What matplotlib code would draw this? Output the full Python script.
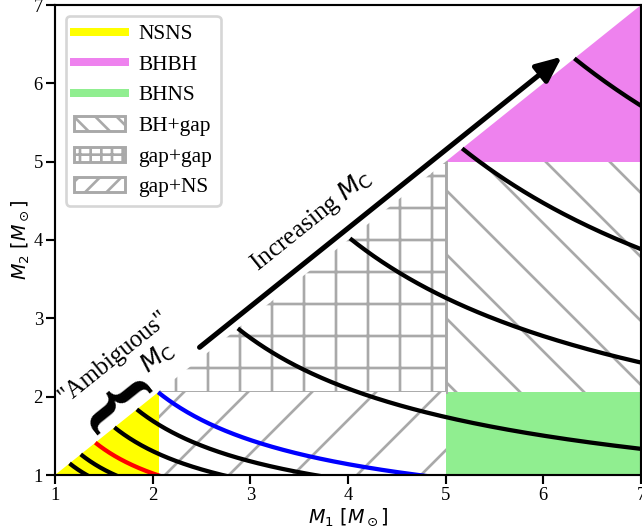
import numpy as np
import matplotlib
matplotlib.use("Agg")
import matplotlib.pyplot as plt
from matplotlib.patches import Rectangle, Polygon, Patch
from matplotlib.lines import Line2D

plt.rcParams["font.family"] = ["Liberation Serif", "DejaVu Serif"]
plt.rcParams["mathtext.fontset"] = "dejavusans"
plt.rcParams["hatch.linewidth"] = 1.0

# Mass ranges (solar masses)
M_MIN, M_MAX = 1.0, 7.0
NS_MAX = 2.06          # maximum neutron-star mass
BH_MIN = 5.0           # lower edge of the black-hole range

# Chirp-mass contours
mc_black = [1.0, 1.1, 1.4, 1.6, 2.5, 3.5, 4.5, 5.5]
mc_red = [1.23]
mc_blue = [1.79]

region_labels = ["NSNS", "BHBH", "BHNS", "BH+gap", "gap+gap", "gap+NS"]
region_colors = {"NSNS": "yellow", "BHBH": "violet", "BHNS": "lightgreen"}
hatch_gray = "darkgray"

x_ticks = [1, 2, 3, 4, 5, 6, 7]
y_ticks = [1, 2, 3, 4, 5, 6, 7]

# "Increasing M_C" arrow, running parallel to the equal-mass line
arrow_start, arrow_end, arrow_offset = 2.48, 6.19, 0.15


def chirp_curve(mc, n=600):
    """Component masses (m1 >= m2) at fixed chirp mass."""
    q = np.geomspace(1.0, 0.02, n)
    m1 = mc * (1 + q) ** 0.2 / q ** 0.6
    return m1, q * m1


DPI = 192
fig = plt.figure(figsize=(642 / DPI, 528 / DPI), dpi=DPI)
ax = fig.add_axes([55 / 642, 53 / 528, 586 / 642, 470 / 528])
ax.set_xlim(M_MIN, M_MAX)
ax.set_ylim(M_MIN, M_MAX)

# Population regions
ax.add_patch(Rectangle((M_MIN, M_MIN), NS_MAX - M_MIN, NS_MAX - M_MIN,
                       facecolor=region_colors["NSNS"], lw=0, zorder=1))
ax.add_patch(Rectangle((BH_MIN, BH_MIN), M_MAX - BH_MIN, M_MAX - BH_MIN,
                       facecolor=region_colors["BHBH"], lw=0, zorder=1))
ax.add_patch(Rectangle((BH_MIN, M_MIN), M_MAX - BH_MIN, NS_MAX - M_MIN,
                       facecolor=region_colors["BHNS"], lw=0, zorder=1))
ax.add_patch(Rectangle((BH_MIN, NS_MAX), M_MAX - BH_MIN, BH_MIN - NS_MAX,
                       facecolor="white", edgecolor=hatch_gray, hatch="\\",
                       lw=0, zorder=1))
ax.add_patch(Rectangle((NS_MAX, NS_MAX), BH_MIN - NS_MAX, BH_MIN - NS_MAX,
                       facecolor="white", edgecolor=hatch_gray, hatch="+",
                       lw=1.1, zorder=1))
ax.add_patch(Rectangle((NS_MAX, M_MIN), BH_MIN - NS_MAX, NS_MAX - M_MIN,
                       facecolor="white", edgecolor=hatch_gray, hatch="/",
                       lw=0, zorder=1))

# Only m1 >= m2 is physical: blank out the upper triangle
ax.add_patch(Polygon([(M_MIN, M_MIN), (M_MAX, M_MAX), (M_MIN, M_MAX)],
                     closed=True, facecolor="white", edgecolor="none",
                     lw=0, zorder=2))

# Chirp-mass contours
for values, color in ((mc_black, "black"), (mc_red, "red"), (mc_blue, "blue")):
    for mc in values:
        m1, m2 = chirp_curve(mc)
        ax.plot(m1, m2, color=color, lw=1.6, solid_capstyle="butt", zorder=3)

# On-screen angle of the equal-mass diagonal
p0 = ax.transData.transform((M_MIN, M_MIN))
p1 = ax.transData.transform((M_MAX, M_MAX))
diag_angle = np.degrees(np.arctan2(p1[1] - p0[1], p1[0] - p0[0]))

# Arrow and annotations
ax.annotate("", xy=(arrow_end, arrow_end + arrow_offset),
            xytext=(arrow_start, arrow_start + arrow_offset),
            arrowprops=dict(arrowstyle="-|>,head_length=0.5,head_width=0.22",
                            lw=1.9, color="black", mutation_scale=16,
                            shrinkA=0, shrinkB=0),
            zorder=4)
ax.text(3.62, 4.25, r"Increasing $M_\mathrm{C}$", fontsize=9.5,
        rotation=diag_angle, rotation_mode="anchor",
        ha="center", va="center", zorder=4)
ax.text(1.6, 2.5, '"Ambiguous"', fontsize=9.2,
        rotation=diag_angle, rotation_mode="anchor",
        ha="center", va="center", zorder=4)
ax.text(2.05, 2.5, r"$M_\mathrm{C}$", fontsize=9.5,
        rotation=diag_angle, rotation_mode="anchor",
        ha="center", va="center", zorder=4)
ax.text(1.58, 1.88, "{", fontsize=32, fontweight="bold",
        rotation=diag_angle - 90, rotation_mode="anchor",
        ha="center", va="center", zorder=4)

ax.set_xticks(x_ticks)
ax.set_yticks(y_ticks)
ax.tick_params(labelsize=7, pad=1)
ax.set_xlabel(r"$M_1\ [M_\odot]$", fontsize=7.2, labelpad=1)
ax.set_ylabel(r"$M_2\ [M_\odot]$", fontsize=7.2, labelpad=1)
for s in ax.spines.values():
    s.set_zorder(5)

handles = [
    Line2D([], [], color=region_colors["NSNS"], lw=3),
    Line2D([], [], color=region_colors["BHBH"], lw=3),
    Line2D([], [], color=region_colors["BHNS"], lw=3),
    Patch(facecolor="white", edgecolor=hatch_gray, hatch="\\\\\\", lw=1.1),
    Patch(facecolor="white", edgecolor=hatch_gray, hatch="+++", lw=1.1),
    Patch(facecolor="white", edgecolor=hatch_gray, hatch="///", lw=1.1),
]
leg = ax.legend(handles, region_labels, loc="upper left", fontsize=8,
                handlelength=2.4, handletextpad=0.6, labelspacing=0.5)
leg.set_zorder(6)

fig.savefig("out.png", dpi=DPI)
